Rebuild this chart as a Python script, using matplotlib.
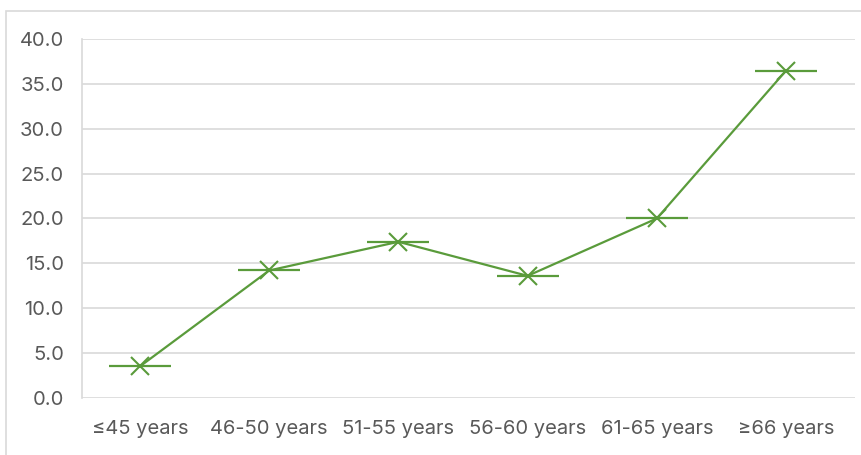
import matplotlib
matplotlib.use("Agg")
import matplotlib.pyplot as plt
from matplotlib.patches import Rectangle

categories = ["≤45 years", "46-50 years", "51-55 years", "56-60 years", "61-65 years", "≥66 years"]
values = [3.5, 14.2, 17.4, 13.6, 20.0, 36.5]
y_ticks = [0, 5, 10, 15, 20, 25, 30, 35, 40]

W, H = 861, 455
fig = plt.figure(figsize=(W / 100, H / 100), dpi=100)
plt.rcParams['font.family'] = ['Inter', 'DejaVu Sans']

# chart-area border (only the top and left edges fall inside the canvas)
fig.patches.append(Rectangle((6 / W, -0.1), 1.2, 1 - 11 / H + 0.1,
                             transform=fig.transFigure, fill=False,
                             edgecolor='#d9d9d9', linewidth=1.2))

ax = fig.add_axes([82 / W, 1 - 397.7 / H, (855 - 82) / W, (397.7 - 39.3) / H])
x = list(range(len(categories)))
green = '#5a9b3b'
ax.plot(x, values, color=green, linewidth=1.6, zorder=3)
ax.plot(x, values, linestyle='none', marker='x', markersize=13,
        markeredgewidth=1.5, color=green, zorder=4)
ax.plot(x, values, linestyle='none', marker='_', markersize=45,
        markeredgewidth=1.6, color=green, zorder=4)

ax.set_ylim(0, 40)
ax.set_xlim(-0.449, 5.534)
ax.set_yticks(y_ticks)
ax.set_yticklabels([f"{v:.1f}" for v in y_ticks])
ax.set_xticks(x)
ax.set_xticklabels(categories)
ax.grid(axis='y', color='#d9d9d9', linewidth=1.2)
ax.set_axisbelow(True)
for s in ['top', 'right', 'bottom']:
    ax.spines[s].set_visible(False)
ax.spines['left'].set_color('#d9d9d9')
ax.spines['left'].set_linewidth(1.2)
ax.tick_params(axis='both', length=0, colors='#595959', labelsize=14.5)
ax.tick_params(axis='y', pad=13)
ax.tick_params(axis='x', pad=16)

fig.savefig("out.png", dpi=100)
